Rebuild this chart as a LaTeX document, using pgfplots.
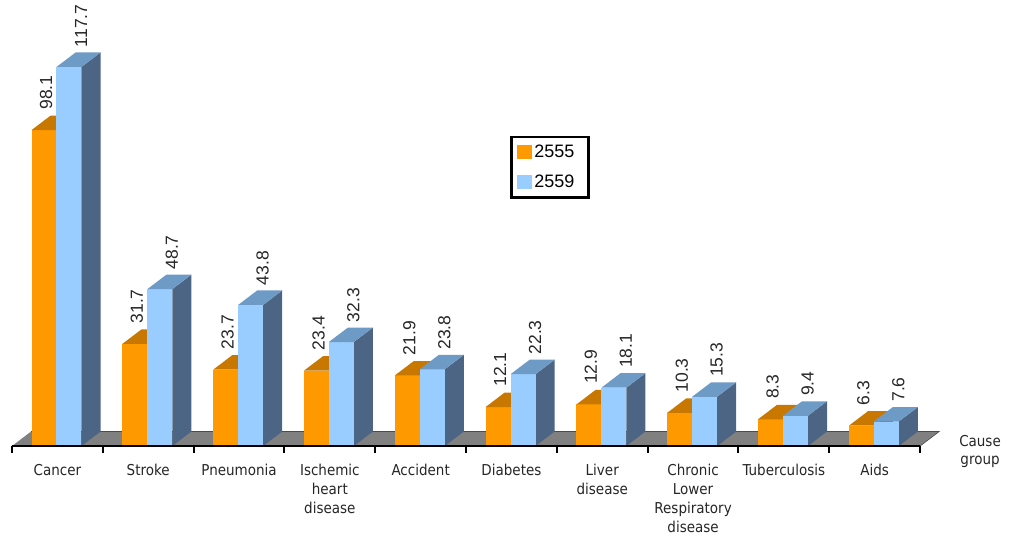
\documentclass[border=0pt]{standalone}
\usepackage{pgfplots}
\pgfplotsset{compat=1.18}
\usepackage{pgfplotstable}
\usepackage{fontspec}
\setmainfont{Liberation Sans}
\newfontfamily\catfont{DejaVu Sans Condensed}

\definecolor{orangeFront}{HTML}{FF9900}
\definecolor{orangeTop}{HTML}{C87800}
\definecolor{orangeSide}{HTML}{A86400}
\definecolor{blueFront}{HTML}{99CCFF}
\definecolor{blueTop}{HTML}{6E9AC6}
\definecolor{blueSide}{HTML}{4D6584}
\definecolor{floorGray}{HTML}{808080}

% death rate by cause group, years 2555 (a) and 2559 (b)
\pgfplotstableread{
idx a     b
0   98.1  117.7
1   31.7  48.7
2   23.7  43.8
3   23.4  32.3
4   21.9  23.8
5   12.1  22.3
6   12.9  18.1
7   10.3  15.3
8   8.3   9.4
9   6.3   7.6
}\rates

% depth of the 3-D effect, in axis units
\def\dx{0.21}
\def\dy{4.5}

% one box: left x, right x, height, front/top/side colours
\newcommand{\drawbox}[6]{%
  \pgfmathsetmacro\xl{#1}%
  \pgfmathsetmacro\xr{#2}%
  \pgfmathsetmacro\xld{\xl+\dx}%
  \pgfmathsetmacro\xrd{\xr+\dx}%
  \pgfmathsetmacro\vv{#3}%
  \pgfmathsetmacro\vt{#3+\dy}%
  \addplot[forget plot, draw=none, fill=#6] coordinates {(\xr,0) (\xrd,\dy) (\xrd,\vt) (\xr,\vv)};
  \addplot[forget plot, draw=none, fill=#4] coordinates {(\xl,0) (\xr,0) (\xr,\vv) (\xl,\vv)};
  \addplot[forget plot, draw=none, fill=#5] coordinates {(\xl,\vv) (\xr,\vv) (\xrd,\vt) (\xld,\vt)};
}

\begin{document}
\begin{tikzpicture}
\begin{axis}[
  x=90.8pt, y=3.22pt,
  xmin=-0.132, xmax=10.99,
  ymin=-29.5, ymax=138.5,
  clip=false,
  axis y line=none,
  axis x line*=middle,
  x axis line style={draw=none},
  xtick={0.5,1.5,...,9.5},
  major tick length=0pt,
  xtick style={draw=none},
  xticklabels={Cancer, Stroke, Pneumonia, {Ischemic\\heart\\disease}, Accident, Diabetes, {Liver\\disease}, {Chronic\\Lower\\Respiratory\\disease}, Tuberculosis, Aids},
  xticklabel style={align=center, anchor=north, inner sep=0pt, yshift=-18pt,
    font=\catfont\fontsize{15}{19}\selectfont, text=black!85},
  /pgf/number format/assume math mode=true,
  legend image code/.code={\path[#1] (0pt,-7pt) rectangle (15pt,7pt);},
  legend style={at={(axis cs:5.485,96.3)}, anchor=north west,
    draw=black, line width=2.5pt, fill=white,
    font=\fontsize{18}{20}\selectfont,
    inner xsep=6pt, inner ysep=5pt, row sep=10pt,
    nodes={inner xsep=2pt, inner ysep=3pt, text width=46pt}},
  legend cell align=left,
]
  % floor
  \addplot[forget plot, fill=floorGray, draw=black!70, line width=0.6pt]
    coordinates {(0,0) (10,0) (10.21,4.5) (0.21,4.5)};

  % bars
  \pgfplotsinvokeforeach{0,...,9}{
    \pgfplotstablegetelem{#1}{a}\of\rates
    \let\va\pgfplotsretval
    \pgfplotstablegetelem{#1}{b}\of\rates
    \let\vb\pgfplotsretval
    \drawbox{#1+0.215}{#1+0.49}{\va}{orangeFront}{orangeTop}{orangeSide}
    \drawbox{#1+0.49}{#1+0.765}{\vb}{blueFront}{blueTop}{blueSide}
  }

  % baseline with category separators
  \draw[black, line width=2pt] (axis cs:0,0) -- (axis cs:10,0);
  \pgfplotsinvokeforeach{0,...,10}{
    \draw[black, line width=2pt] (axis cs:#1,0) -- ++(0pt,-7pt);
  }

  % value labels
  \addplot[forget plot, draw=none, mark=none, point meta=explicit,
    nodes near coords={\pgfmathprintnumber[fixed,fixed zerofill,precision=1]{\pgfplotspointmeta}},
    nodes near coords style={rotate=90, anchor=west, inner sep=0pt,
      font=\fontsize{17.5}{20}\selectfont, text=black!85}]
    table[x expr=\thisrow{idx}+0.375, y expr=\thisrow{a}+4.5+1.8, meta=a] {\rates};
  \addplot[forget plot, draw=none, mark=none, point meta=explicit,
    nodes near coords={\pgfmathprintnumber[fixed,fixed zerofill,precision=1]{\pgfplotspointmeta}},
    nodes near coords style={rotate=90, anchor=west, inner sep=0pt,
      font=\fontsize{17.5}{20}\selectfont, text=black!85}]
    table[x expr=\thisrow{idx}+0.76, y expr=\thisrow{b}+4.5+1.6, meta=b] {\rates};

  \addlegendimage{fill=orangeFront, draw=none}
  \addlegendentry{2555}
  \addlegendimage{fill=blueFront, draw=none}
  \addlegendentry{2559}

  \node[align=center, font=\catfont\fontsize{15}{18}\selectfont, text=black!85]
    at (axis cs:10.66,-1.6) {Cause\\group};
\end{axis}
% the page is exactly the axis area
\pgfresetboundingbox
\useasboundingbox (current axis.south west) rectangle (current axis.north east);
\end{tikzpicture}
\end{document}
